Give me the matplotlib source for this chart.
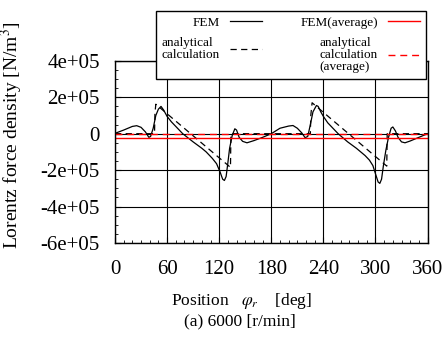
import matplotlib
matplotlib.use("Agg")
import matplotlib.pyplot as plt
import matplotlib.ticker as mticker
import numpy as np

plt.rcParams['font.family'] = 'serif'
plt.rcParams['font.serif'] = ['Liberation Serif', 'DejaVu Serif']
plt.rcParams['mathtext.fontset'] = 'stix'

# FEM result (deg, N/m^3)
fem_deg = [0, 10, 20, 25, 30, 35, 39, 41, 44, 47, 50, 53, 56, 60, 65, 70, 78, 90, 100, 105,
           112, 117, 121, 124, 126, 128, 130, 132, 135, 138, 140, 143, 147, 152, 160, 170,
           180, 190, 200, 205, 210, 215, 219, 222, 225, 228, 232, 234, 237, 240, 245, 250,
           257, 268, 278, 288, 293, 297, 300, 303, 305, 307, 309, 312, 315, 318, 320, 323,
           326, 330, 334, 340, 350, 360]
fem_val = [0.02, 0.2, 0.4, 0.44, 0.35, 0.1, -0.2, -0.15, 0.3, 1.0, 1.35, 1.5, 1.3, 0.95,
           0.65, 0.4, 0.0, -0.45, -0.8, -1.0, -1.35, -1.65, -2.1, -2.5, -2.57, -2.35, -1.6,
           -0.8, -0.1, 0.27, 0.2, -0.2, -0.42, -0.5, -0.38, -0.2, 0.0, 0.3, 0.42, 0.45, 0.3,
           0.05, -0.22, -0.15, 0.5, 1.2, 1.55, 1.5, 1.2, 0.95, 0.6, 0.35, 0.0, -0.45, -0.8,
           -1.2, -1.45, -1.75, -2.2, -2.65, -2.73, -2.5, -1.8, -0.9, -0.2, 0.3, 0.37, 0.15,
           -0.2, -0.45, -0.5, -0.4, -0.2, 0.0]

# analytical calculation
ana_deg = [0, 45.5, 46, 47, 133, 133.5, 225, 225.5, 227, 313, 313.5, 360]
ana_val = [0, 0, 1.1, 1.62, -1.85, 0, 0, 1.0, 1.7, -1.78, 0, 0]

fem_avg = -0.23
ana_avg = -0.02
scale = 1e5

fig = plt.figure(figsize=(4.44, 3.49), dpi=100)
ax = fig.add_axes([0.259, 0.304, 0.704, 0.5215])

ax.plot(fem_deg, np.array(fem_val) * scale, color='black', lw=0.9, label='FEM')
ax.plot(ana_deg, np.array(ana_val) * scale, color='black', lw=0.9, dashes=(5, 3.5),
        label='analytical\ncalculation')
ax.axhline(fem_avg * scale, color='red', lw=1.0, label='FEM(average)')
ax.axhline(ana_avg * scale, color='red', lw=1.0, dashes=(5, 3.5),
           label='analytical\ncalculation\n(average)')

ax.set_xlim(0, 360)
ax.set_ylim(-6e5, 4e5)
ax.xaxis.set_major_locator(mticker.MultipleLocator(60))
ax.xaxis.set_minor_locator(mticker.MultipleLocator(10))
ax.yaxis.set_major_locator(mticker.MultipleLocator(2e5))
ax.yaxis.set_minor_locator(mticker.MultipleLocator(5e4))
ax.yaxis.set_major_formatter(mticker.FuncFormatter(lambda v, p: '0' if abs(v) < 1 else f'{v:.0e}'))
ax.grid(True, which='major', color='black', lw=0.8)
ax.tick_params(which='both', direction='in', top=False, right=False)
ax.tick_params(which='major', length=4, labelsize=15)
ax.tick_params(axis='y', which='major', pad=11)
ax.tick_params(axis='x', which='major', pad=12)
ax.tick_params(which='minor', length=2.5)
for s in ax.spines.values():
    s.set_linewidth(1.0)

leg = ax.legend(ncol=2, markerfirst=False, loc='upper right', bbox_to_anchor=(0.995, 1.275),
                fontsize=9.5, frameon=True, fancybox=False, edgecolor='black',
                framealpha=1, handlelength=2.4, handletextpad=0.8, columnspacing=2.9,
                borderpad=0.45, labelspacing=0.6, borderaxespad=0)
leg.get_frame().set_linewidth(1.0)
for t in leg.get_texts():
    t.set_linespacing(1.0)

fig.text(0.028, 0.612, 'Lorentz force density [N/m$^3$]', rotation=90,
         ha='center', va='center', fontsize=14)
fig.text(0.545, 0.138, r'Position   $\varphi_r$    [deg]', ha='center', va='center', fontsize=12.5)
fig.text(0.54, 0.078, '(a) 6000 [r/min]', ha='center', va='center', fontsize=12.5)

fig.savefig('out.png', dpi=100)
